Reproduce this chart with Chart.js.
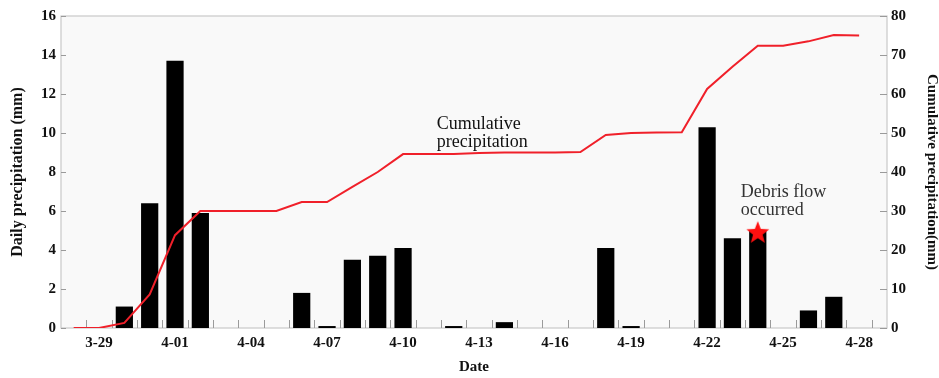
<!DOCTYPE html>
<html lang="en">
<head>
    <meta charset="UTF-8">
    <title>Daily and cumulative precipitation</title>
    <script src="https://cdn.jsdelivr.net/npm/chart.js"></script>
    <style>
        html, body { margin: 0; padding: 0; background: #fff; }
        .wrap { width: 939px; height: 378px; position: relative; }
    </style>
</head>
<body>
    <div class="wrap"><canvas id="rainChart"></canvas></div>
    <script>
        // dates 3-28 .. 4-28, one entry per day
        const dates = ['3-28', '3-29', '3-30', '3-31',
            '4-01', '4-02', '4-03', '4-04', '4-05', '4-06', '4-07', '4-08', '4-09', '4-10',
            '4-11', '4-12', '4-13', '4-14', '4-15', '4-16', '4-17', '4-18', '4-19', '4-20',
            '4-21', '4-22', '4-23', '4-24', '4-25', '4-26', '4-27', '4-28'];
        const dailyRain = [0, 0, 1.1, 6.4,
            13.7, 5.9, 0, 0, 0, 1.8, 0.1, 3.5, 3.7, 4.1,
            0, 0.1, 0, 0.3, 0, 0, 0, 4.1, 0.1, 0,
            0, 10.3, 4.6, 5.0, 0, 0.9, 1.6, 0];
        const cumulativeRain = [0, 0, 1.3, 8.6,
            23.8, 30.0, 30.0, 30.0, 30.0, 32.3, 32.3, 36.2, 40.0, 44.6,
            44.6, 44.6, 44.9, 45.0, 45.0, 45.0, 45.1, 49.5, 50.0, 50.1,
            50.2, 61.3, 67.0, 72.4, 72.4, 73.5, 75.1, 75.0];
        const labelEvery = 3;          // 3-29, 4-01, 4-04 ...
        const debrisDate = '4-24';
        const debrisMark = 4.93;       // star height on the daily axis

        const serif = '"Liberation Serif", "Times New Roman", serif';
        const axisGrey = '#c9c9c9';

        // filled five point star for the debris flow marker
        function makeStar(r) {
            const c = document.createElement('canvas');
            c.width = c.height = r * 2 + 2;
            const g = c.getContext('2d');
            g.fillStyle = '#ff1010';
            g.beginPath();
            for (let k = 0; k < 10; k++) {
                const rad = k % 2 === 0 ? r : r * 0.42;
                const a = -Math.PI / 2 + k * Math.PI / 5;
                const px = r + 1 + rad * Math.cos(a), py = r + 1 + rad * Math.sin(a) + r * 0.1;
                k === 0 ? g.moveTo(px, py) : g.lineTo(px, py);
            }
            g.closePath();
            g.fill();
            return c;
        }

        const notes = [
            { lines: ['Cumulative', 'precipitation'], x: 14.33, y: 51, axis: 'y1', color: '#111' },
            { lines: ['Debris flow', 'occurred'], x: 26.33, y: 6.72, axis: 'y', color: '#333' }
        ];

        const decor = {
            id: 'decor',
            beforeDraw(chart) {
                const { ctx, chartArea: a } = chart;
                ctx.save();
                ctx.fillStyle = '#f9f9f9';
                ctx.fillRect(a.left, a.top, a.right - a.left, a.bottom - a.top);
                ctx.restore();
            },
            beforeDatasetsDraw(chart) {
                const { ctx, chartArea: a } = chart;
                ctx.save();
                ctx.strokeStyle = axisGrey;
                ctx.lineWidth = 1.2;
                ctx.strokeRect(a.left, a.top, a.right - a.left, a.bottom - a.top);

                // inward tick marks
                ctx.strokeStyle = '#9a9a9a';
                ctx.lineWidth = 1;
                const xs = chart.scales.x, yl = chart.scales.y, yr = chart.scales.y1;
                ctx.beginPath();
                dates.forEach((d, i) => {
                    const px = Math.round(xs.getPixelForValue(i + 0.5)) + 0.5;
                    ctx.moveTo(px, a.bottom);
                    ctx.lineTo(px, a.bottom - 8);
                });
                yl.ticks.forEach(t => {
                    const py = Math.round(yl.getPixelForValue(t.value)) + 0.5;
                    ctx.moveTo(a.left, py);
                    ctx.lineTo(a.left + 5, py);
                });
                yr.ticks.forEach(t => {
                    const py = Math.round(yr.getPixelForValue(t.value)) + 0.5;
                    ctx.moveTo(a.right, py);
                    ctx.lineTo(a.right - 7, py);
                });
                ctx.stroke();
                ctx.restore();
            },
            afterDraw(chart) {
                const { ctx } = chart;
                ctx.save();
                ctx.font = '18px ' + serif;
                ctx.textBaseline = 'alphabetic';
                notes.forEach(n => {
                    const px = chart.scales.x.getPixelForValue(n.x);
                    const py = chart.scales[n.axis].getPixelForValue(n.y);
                    ctx.fillStyle = n.color;
                    n.lines.forEach((l, k) => ctx.fillText(l, px, py + k * 18));
                });
                ctx.restore();
            }
        };

        new Chart(document.getElementById('rainChart'), {
            data: {
                datasets: [
                    {
                        type: 'scatter',
                        label: 'Debris flow occurred',
                        data: [{ x: dates.indexOf(debrisDate), y: debrisMark }],
                        yAxisID: 'y',
                        pointStyle: makeStar(12),
                        pointRadius: 12,
                        order: 0
                    },
                    {
                        type: 'line',
                        label: 'Cumulative precipitation',
                        data: cumulativeRain.map((v, i) => ({ x: i, y: v })),
                        yAxisID: 'y1',
                        borderColor: '#f0202a',
                        borderWidth: 2,
                        pointRadius: 0,
                        tension: 0,
                        order: 1
                    },
                    {
                        type: 'bar',
                        label: 'Daily precipitation',
                        // days without rain get no bar
                        data: dailyRain.map((v, i) => ({ x: i, y: v > 0 ? v : null })),
                        yAxisID: 'y',
                        backgroundColor: '#000',
                        borderWidth: 0,
                        barPercentage: 0.68,
                        categoryPercentage: 1,
                        order: 2
                    }
                ]
            },
            options: {
                responsive: true,
                maintainAspectRatio: false,
                animation: false,
                layout: { padding: { top: 16, left: 0, right: 0, bottom: 0 } },
                plugins: { legend: { display: false }, tooltip: { enabled: false } },
                scales: {
                    x: {
                        type: 'linear',
                        offset: false,
                        min: -0.5,
                        max: 32.1,
                        afterBuildTicks: s => {
                            s.ticks = dates.map((d, i) => ({ value: i }))
                                .filter(t => (t.value - 1) % labelEvery === 0);
                        },
                        afterFit: s => { s.height = 50; },
                        grid: { display: false, drawTicks: false, offset: false },
                        border: { display: false },
                        ticks: {
                            autoSkip: false,
                            maxRotation: 0,
                            padding: 6,
                            color: '#111',
                            font: { family: serif, size: 15, weight: 'bold' },
                            callback: v => dates[v]
                        },
                        title: {
                            display: true,
                            text: 'Date',
                            color: '#111',
                            padding: { top: 0, bottom: 2 },
                            font: { family: serif, size: 15, weight: 'bold' }
                        }
                    },
                    y: {
                        position: 'left',
                        min: 0,
                        max: 16,
                        afterFit: s => { s.width = 61; },
                        grid: { display: false, drawTicks: false },
                        border: { display: false },
                        ticks: {
                            stepSize: 2,
                            padding: 5,
                            color: '#111',
                            font: { family: serif, size: 15, weight: 'bold' }
                        },
                        title: {
                            display: true,
                            text: 'Daily precipitation (mm)',
                            color: '#111',
                            padding: { top: 8, bottom: 0 },
                            font: { family: serif, size: 16, weight: 'bold' }
                        }
                    },
                    y1: {
                        position: 'right',
                        min: 0,
                        max: 80,
                        afterFit: s => { s.width = 52; },
                        grid: { display: false, drawTicks: false },
                        border: { display: false },
                        ticks: {
                            stepSize: 10,
                            padding: 4,
                            color: '#111',
                            font: { family: serif, size: 15, weight: 'bold' }
                        },
                        title: {
                            display: true,
                            text: 'Cumulative precipitation(mm)',
                            color: '#111',
                            padding: { top: 0, bottom: 0 },
                            font: { family: serif, size: 15, weight: 'bold', lineHeight: 1 }
                        }
                    }
                }
            },
            plugins: [decor]
        });
    </script>
</body>
</html>
